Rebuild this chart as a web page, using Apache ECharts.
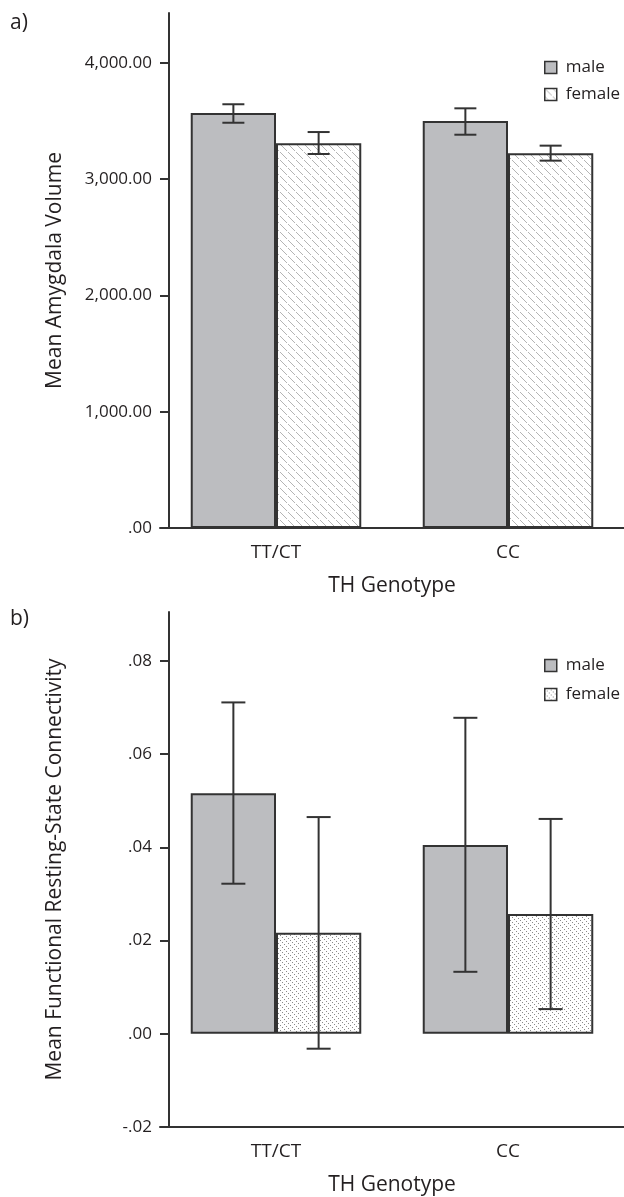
<!DOCTYPE html>
<html>
<head>
<meta charset="utf-8">
<script src="https://cdn.jsdelivr.net/npm/echarts@6/dist/echarts.min.js"></script>
<style>
html,body{margin:0;padding:0;background:#fff;}
#c{width:624px;height:1197px;}
</style>
</head>
<body>
<div id="c"></div>
<script>
// ---- data ----
const categories = ['TT/CT', 'CC'];
const seriesNames = ['male', 'female'];
const yTicksA = [0, 1000, 2000, 3000, 4000];
const yTicksB = [-0.02, 0, 0.02, 0.04, 0.06, 0.08];
// Panel a: Mean Amygdala Volume
const maleVolume = [3570, 3501];
const maleVolumeLow = [3486, 3383];
const maleVolumeHigh = [3645, 3610];
const femaleVolume = [3309, 3223];
const femaleVolumeLow = [3217, 3160];
const femaleVolumeHigh = [3406, 3289];
// Panel b: Mean Functional Resting-State Connectivity
const maleConn = [0.0516, 0.0405];
const maleConnLow = [0.0322, 0.0133];
const maleConnHigh = [0.0711, 0.0678];
const femaleConn = [0.0217, 0.0257];
const femaleConnLow = [-0.0032, 0.0053];
const femaleConnHigh = [0.0465, 0.0461];

// ---- styles ----
const FONT = 'Open Sans';
const TXT = '#231f20';
const LINE = '#333333';
const GAP = 0.265;

function hatch(size, color, step, onLen, period) {
  const cv = document.createElement('canvas');
  cv.width = size; cv.height = size;
  const ctx = cv.getContext('2d');
  ctx.fillStyle = '#ffffff';
  ctx.fillRect(0, 0, size, size);
  ctx.fillStyle = color;
  for (let off = 0; off < size; off += step) {
    for (let i = 0; i < size; i++) {
      if ((i % period) < onLen) ctx.fillRect(i, (i + off) % size, 1, 1);
    }
  }
  return cv;
}
const patA = {image: hatch(8, '#b4b4b4', 8, 7, 8), repeat: 'repeat'};
const patB = {image: hatch(10, '#8a8a8a', 5, 1, 2), repeat: 'repeat'};
const maleFill = '#bcbdc0';

function fmtA(v) {
  const s = Number(v).toLocaleString('en-US', {minimumFractionDigits: 2, maximumFractionDigits: 2});
  return s.replace(/^(-?)0\./, '$1.');
}
function fmtB(v) {
  return Number(v).toFixed(2).replace(/^(-?)0\./, '$1.');
}

function errSeries(name, low, high, xi, yi, side, capW) {
  return {
    type: 'custom', name: name, xAxisIndex: xi, yAxisIndex: yi, z: 10,
    silent: true,
    data: categories.map((c, i) => [i, low[i], high[i]]),
    renderItem: function (params, api) {
      const band = api.size([1, 0])[0];
      const bw = band * (1 - GAP) / 2;
      const lo = api.coord([api.value(0), api.value(1)]);
      const hi = api.coord([api.value(0), api.value(2)]);
      const x = lo[0] + side * bw / 2;
      const st = {stroke: LINE, lineWidth: 2};
      return {
        type: 'group',
        children: [
          {type: 'line', shape: {x1: x, y1: lo[1], x2: x, y2: hi[1]}, style: st},
          {type: 'line', shape: {x1: x - capW / 2, y1: lo[1], x2: x + capW / 2, y2: lo[1]}, style: st},
          {type: 'line', shape: {x1: x - capW / 2, y1: hi[1], x2: x + capW / 2, y2: hi[1]}, style: st}
        ]
      };
    }
  };
}

function barSeries(name, data, fill, xi, yi) {
  return {
    type: 'bar', name: name, xAxisIndex: xi, yAxisIndex: yi,
    data: data, barGap: 0, barCategoryGap: (GAP * 100) + '%',
    itemStyle: {color: fill, borderColor: LINE, borderWidth: 2},
    emphasis: {disabled: true}
  };
}

function xAxisDef(gi) {
  return {
    type: 'category', gridIndex: gi, data: categories,
    axisLine: {onZero: false, lineStyle: {color: LINE, width: 2}},
    axisTick: {alignWithLabel: true, length: 9, lineStyle: {color: LINE, width: 2}},
    axisLabel: {color: TXT, fontFamily: FONT, fontSize: 19, margin: 15},
    name: 'TH Genotype', nameLocation: 'middle', nameGap: 48,
    nameTextStyle: {color: TXT, fontFamily: FONT, fontSize: 21}
  };
}

function legendDef(top, gap, suffix, pat) {
  return {
    orient: 'vertical', left: 544, top: top, padding: 0,
    itemWidth: 12, itemHeight: 12, itemGap: gap,
    icon: 'rect', selectedMode: false,
    data: [
      {name: seriesNames[0] + suffix, itemStyle: {color: maleFill, borderColor: LINE, borderWidth: 1.5}},
      {name: seriesNames[1] + suffix, itemStyle: {color: pat, borderColor: LINE, borderWidth: 1.5}}
    ],
    formatter: n => n.split('_')[0],
    textStyle: {color: TXT, fontFamily: FONT, fontSize: 17, lineHeight: 17, padding: [0, 0, 0, 4]}
  };
}

const chart = echarts.init(document.getElementById('c'), null, {renderer: 'canvas'});
chart.setOption({
  animation: false,
  backgroundColor: '#ffffff',
  textStyle: {fontFamily: FONT},
  title: [
    {text: 'a)', left: 10, top: 13, padding: 0, textStyle: {color: TXT, fontFamily: FONT, fontSize: 21, fontWeight: 'normal'}},
    {text: 'b)', left: 10, top: 609, padding: 0, textStyle: {color: TXT, fontFamily: FONT, fontSize: 21, fontWeight: 'normal'}}
  ],
  grid: [
    {left: 160, right: -4, top: 13, height: 515},
    {left: 160, right: -4, top: 612, height: 515}
  ],
  legend: [
    legendDef(59, 10, '_a', patA),
    legendDef(657, 12, '_b', patB)
  ],
  xAxis: [xAxisDef(0), xAxisDef(1)],
  yAxis: [
    {
      type: 'value', gridIndex: 0, min: 0, max: 4430, interval: 1000, offset: -9,
      splitLine: {show: false},
      axisLine: {show: true, lineStyle: {color: LINE, width: 2}},
      axisTick: {show: true, length: 9, customValues: yTicksA, lineStyle: {color: LINE, width: 2}},
      axisLabel: {customValues: yTicksA, formatter: fmtA, color: TXT, fontFamily: FONT, fontSize: 17, margin: 17},
      name: 'Mean Amygdala Volume', nameLocation: 'middle', nameGap: 103,
      nameTextStyle: {color: TXT, fontFamily: FONT, fontSize: 21}
    },
    {
      type: 'value', gridIndex: 1, min: -0.02, max: 0.0905, interval: 0.02, offset: -9,
      splitLine: {show: false},
      axisLine: {show: true, lineStyle: {color: LINE, width: 2}},
      axisTick: {show: true, length: 9, customValues: yTicksB, lineStyle: {color: LINE, width: 2}},
      axisLabel: {customValues: yTicksB, formatter: fmtB, color: TXT, fontFamily: FONT, fontSize: 17, margin: 17},
      name: 'Mean Functional Resting-State Connectivity', nameLocation: 'middle', nameGap: 103,
      nameTextStyle: {color: TXT, fontFamily: FONT, fontSize: 21}
    }
  ],
  series: [
    barSeries('male_a', maleVolume, maleFill, 0, 0),
    barSeries('female_a', femaleVolume, patA, 0, 0),
    errSeries('err_male_a', maleVolumeLow, maleVolumeHigh, 0, 0, -1, 22),
    errSeries('err_female_a', femaleVolumeLow, femaleVolumeHigh, 0, 0, 1, 22),
    barSeries('male_b', maleConn, maleFill, 1, 1),
    barSeries('female_b', femaleConn, patB, 1, 1),
    errSeries('err_male_b', maleConnLow, maleConnHigh, 1, 1, -1, 24),
    errSeries('err_female_b', femaleConnLow, femaleConnHigh, 1, 1, 1, 24)
  ]
});
</script>
</body>
</html>
